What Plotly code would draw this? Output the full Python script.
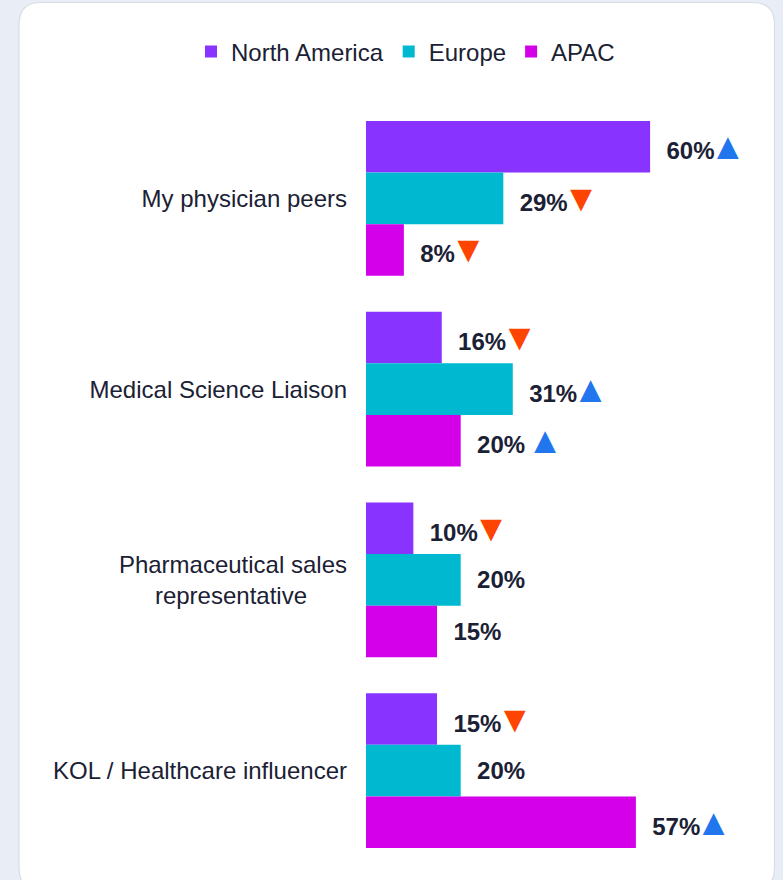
import plotly.graph_objects as go

categories = ["My physician peers", "Medical Science Liaison",
              "Pharmaceutical sales<br>representative" + "\u00a0" * 6,
              "KOL / Healthcare influencer"]
series_names = ["North America", "Europe", "APAC"]
na_values = [60, 16, 10, 15]
eu_values = [29, 31, 20, 20]
apac_values = [8, 20, 15, 57]
# trend markers: "up", "down", "up_sp" (with space), "" none
na_trend = ["up", "down", "down", "down"]
eu_trend = ["down", "up", "", ""]
apac_trend = ["down", "up_sp", "", "up"]

colors = ["#8833ff", "#00b9d1", "#d300e9"]
UP_COLOR = "#2176ee"
DOWN_COLOR = "#fd4400"
TEXT_COLOR = "#1b2134"
FONT = "Arial, Liberation Sans, sans-serif"
TRI_SIZE = 37

W, H = 783, 880
L, R, T, B = 366, 17, 103, 14
PX_PER_PCT = 4.735
plot_w = W - L - R
plot_h = H - T - B


def label(v, t):
    up = "<span style='color:%s;font-size:%dpx'>▲</span>" % (UP_COLOR, TRI_SIZE)
    down = "<span style='color:%s;font-size:%dpx'>▼</span>" % (DOWN_COLOR, TRI_SIZE)
    if not t:
        return "\u00a0\u00a0<b>%d%%</b>" % v
    s = "\u00a0\u00a0<b>%d<span style='letter-spacing:-5px'>%%</span></b>" % v
    if t == "up":
        s += up
    elif t == "up_sp":
        s += "\u00a0" + up
    elif t == "down":
        s += down
    return s


fig = go.Figure()
for name, vals, trend, col in zip(series_names, [na_values, eu_values, apac_values],
                                  [na_trend, eu_trend, apac_trend], colors):
    fig.add_trace(go.Bar(
        name=name, y=categories, x=vals, orientation="h",
        marker=dict(color=col, line=dict(width=0)),
        text=[label(v, t) for v, t in zip(vals, trend)],
        textposition="outside", constraintext="none", cliponaxis=False,
        textfont=dict(size=24, color=TEXT_COLOR, family=FONT),
        hoverinfo="skip",
    ))


def px2paper(x, y):
    return (x - L) / plot_w, (H - B - y) / plot_h


def card_path(x0, y0, x1, y1, r):
    def P(x, y):
        a, b = px2paper(x, y)
        return "%.5f,%.5f" % (a, b)
    d = "M" + P(x0 + r, y0)
    d += " L" + P(x1 - r, y0) + " Q" + P(x1, y0) + " " + P(x1, y0 + r)
    d += " L" + P(x1, y1 - r) + " Q" + P(x1, y1) + " " + P(x1 - r, y1)
    d += " L" + P(x0 + r, y1) + " Q" + P(x0, y1) + " " + P(x0, y1 - r)
    d += " L" + P(x0, y0 + r) + " Q" + P(x0, y0) + " " + P(x0 + r, y0) + " Z"
    return d


fig.add_shape(type="path", xref="paper", yref="paper", layer="below",
              path=card_path(19, 2.5, 774.5, 890, 22),
              fillcolor="#ffffff", line=dict(color="#d9dde3", width=1.2))

leg_x, leg_y = px2paper(191, 52)

fig.update_layout(
    width=W, height=H,
    margin=dict(l=L, r=R, t=T, b=B, autoexpand=False),
    paper_bgcolor="#e9edf5", plot_bgcolor="rgba(0,0,0,0)",
    barmode="group", bargap=0.19, bargroupgap=0,
    font=dict(family=FONT, size=24, color=TEXT_COLOR),
    showlegend=True,
    legend=dict(orientation="h", xref="paper", yref="paper",
                x=leg_x, xanchor="left", y=leg_y, yanchor="middle",
                font=dict(size=24, color=TEXT_COLOR, family=FONT),
                traceorder="normal", bgcolor="rgba(0,0,0,0)", borderwidth=0),
    xaxis=dict(range=[0, plot_w / PX_PER_PCT], visible=False, fixedrange=True),
    yaxis=dict(autorange="reversed", showgrid=False, zeroline=False, showline=False,
               ticks="", ticklabelstandoff=18, fixedrange=True,
               tickfont=dict(size=24, color=TEXT_COLOR, family=FONT)),
)

fig.write_html(
    "out.html",
    config={"displayModeBar": False},
    post_script="document.body.style.margin='0';document.body.style.overflow='hidden';",
)
